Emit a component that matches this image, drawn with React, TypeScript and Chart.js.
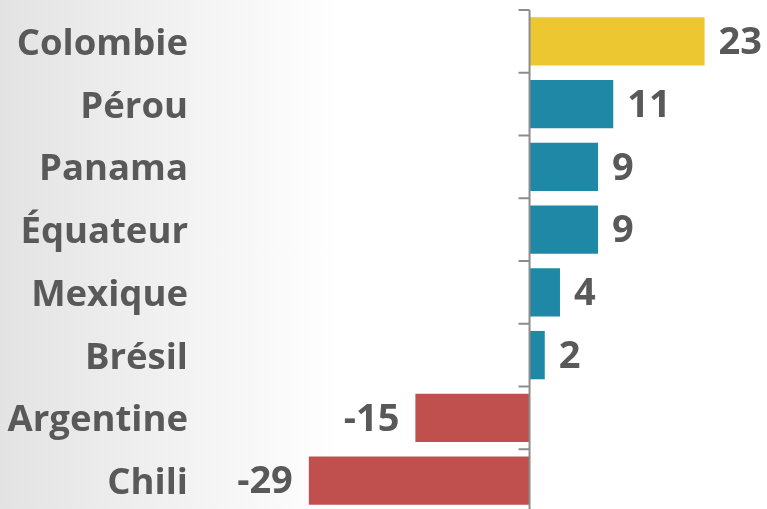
import React, { useEffect, useRef } from "react";
import { Chart, registerables } from "chart.js";

Chart.register(...registerables);

const categories = ["Colombie", "Pérou", "Panama", "Équateur", "Mexique", "Brésil", "Argentine", "Chili"];
const values = [23, 11, 9, 9, 4, 2, -15, -29];
const barColors = ["#ECC731", "#1F88A6", "#1F88A6", "#1F88A6", "#1F88A6", "#1F88A6", "#C0504D", "#C0504D"];

const FONT = "'Open Sans', 'DejaVu Sans', sans-serif";
const TEXT = "#595959";

const zeroAxisPlugin = {
  id: "zeroAxis",
  afterDatasetsDraw(chart: any) {
    const { ctx, chartArea, scales } = chart;
    const x0 = scales.x.getPixelForValue(0);
    ctx.save();
    ctx.strokeStyle = "#8c8c8c";
    ctx.lineWidth = 2;
    ctx.beginPath();
    ctx.moveTo(x0, chartArea.top);
    ctx.lineTo(x0, chartArea.bottom);
    ctx.stroke();
    const n = categories.length;
    const step = (chartArea.bottom - chartArea.top) / n;
    for (let i = 0; i <= n; i++) {
      const yy = chartArea.top + i * step;
      ctx.beginPath();
      ctx.moveTo(x0 - 11, yy);
      ctx.lineTo(x0, yy);
      ctx.stroke();
    }
    ctx.restore();
  },
};

const labelPlugin = {
  id: "labels",
  afterDatasetsDraw(chart: any) {
    const { ctx, chartArea, scales } = chart;
    const meta = chart.getDatasetMeta(0);
    ctx.save();
    ctx.fillStyle = TEXT;
    ctx.textBaseline = "middle";
    ctx.font = `700 36.5px ${FONT}`;
    ctx.textAlign = "right";
    categories.forEach((c, i) => {
      const y = scales.y.getPixelForValue(i);
      ctx.fillText(c, chartArea.left - 12, y + 3);
    });
    ctx.font = `700 38px ${FONT}`;
    meta.data.forEach((bar: any, i: number) => {
      const v = values[i];
      if (v >= 0) {
        ctx.textAlign = "left";
        ctx.fillText(String(v), bar.x + 14, bar.y + 2);
      } else {
        ctx.textAlign = "right";
        ctx.fillText(String(v), bar.x - 16, bar.y + 2);
      }
    });
    ctx.restore();
  },
};

export default function App() {
  const ref = useRef<HTMLCanvasElement>(null);
  useEffect(() => {
    document.body.style.margin = "0";
    const chart = new Chart(ref.current!, {
      type: "bar",
      data: {
        labels: categories,
        datasets: [
          {
            data: values,
            backgroundColor: barColors,
            borderWidth: 0,
            categoryPercentage: 1,
            barPercentage: 0.77,
          },
        ],
      },
      options: {
        indexAxis: "y",
        animation: false,
        responsive: false,
        maintainAspectRatio: false,
        layout: { padding: { top: 10, bottom: 0, left: 0, right: 0 } },
        plugins: { legend: { display: false }, tooltip: { enabled: false } },
        scales: {
          x: {
            min: -43.3,
            max: 31.2,
            display: false,
          },
          y: {
            grid: { display: false, drawTicks: false },
            border: { display: false },
            ticks: { display: false },
            afterFit(scale: any) {
              scale.width = 200;
            },
          },
        },
      },
      plugins: [zeroAxisPlugin, labelPlugin],
    });
    return () => chart.destroy();
  }, []);
  return (
    <div
      style={{
        position: "absolute",
        left: 0,
        top: 0,
        width: 767,
        height: 509,
        overflow: "hidden",
        background: "linear-gradient(to right, #e3e3e3 0%, #f3f3f3 25%, #ffffff 45%)",
      }}
    >
      <canvas ref={ref} width={767} height={512} style={{ display: "block" }} />
    </div>
  );
}
